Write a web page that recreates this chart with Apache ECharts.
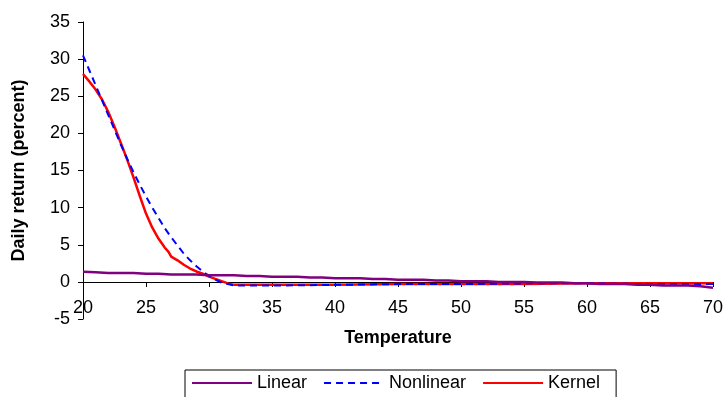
<!DOCTYPE html>
<html>
<head>
<meta charset="utf-8">
<script src="https://cdn.jsdelivr.net/npm/echarts@6/dist/echarts.min.js"></script>
<style>
  html, body { margin: 0; padding: 0; background: #fff; }
  #chart { width: 727px; height: 397px; }
</style>
</head>
<body>
<div id="chart"></div>
<script>
// Linear fit at whole degrees
const linearTemps = [20, 21, 22, 23, 24, 25, 26, 27, 28, 29, 30, 31, 32, 33, 34, 35, 36, 37, 38, 39,
  40, 41, 42, 43, 44, 45, 46, 47, 48, 49, 50, 51, 52, 53, 54, 55, 56, 57, 58, 59,
  60, 61, 62, 63, 64, 65, 66, 67, 68, 69, 70];
const linearValues = [1.35, 1.3, 1.2, 1.2, 1.2, 1.1, 1.1, 1.0, 1.0, 1.0, 0.9, 0.9, 0.9, 0.8, 0.8, 0.7, 0.7, 0.7, 0.6, 0.6,
  0.5, 0.5, 0.5, 0.4, 0.4, 0.3, 0.3, 0.3, 0.2, 0.2, 0.1, 0.1, 0.1, 0.0, 0.0, 0.0, -0.1, -0.1, -0.1, -0.2,
  -0.2, -0.3, -0.3, -0.3, -0.4, -0.4, -0.5, -0.5, -0.5, -0.6, -0.8];

// Nonlinear fit
const nonlinearTemps = [20, 20.5, 21, 21.5, 22, 22.5, 23, 23.5, 24, 24.5, 25, 25.5, 26, 26.5, 27, 27.5,
  28, 28.5, 29, 29.5, 30, 30.5, 31, 31.5, 32, 33, 35, 40, 45, 50, 55, 60, 65, 70];
const nonlinearValues = [30.5, 28.5, 26.5, 24.5, 22.5, 20.5, 18.5, 16.6, 14.8, 13.1, 11.5, 10.0, 8.6, 7.2, 6.0, 4.9,
  3.8, 2.9, 2.1, 1.4, 0.8, 0.3, -0.1, -0.3, -0.5, -0.5, -0.5, -0.4, -0.3, -0.3, -0.2, -0.2, -0.3, -0.3];

// Kernel estimate
const kernelTemps = [20, 20.5, 21, 21.5, 22, 22.5, 23, 23.5, 24, 24.5, 25, 25.5, 26, 26.5, 26.8, 27, 27.5,
  28, 28.5, 29, 29.5, 30, 30.5, 31, 31.5, 32, 33, 35, 40, 45, 50, 55, 60, 65, 70];
const kernelValues = [28.0, 27.0, 25.9, 24.6, 22.9, 20.9, 18.7, 16.5, 14.1, 11.6, 9.2, 7.3, 5.8, 4.6, 4.0, 3.4, 2.9,
  2.3, 1.8, 1.4, 1.1, 0.7, 0.4, 0.1, -0.2, -0.4, -0.4, -0.4, -0.4, -0.3, -0.3, -0.3, -0.2, -0.2, -0.2];

const zip = (xs, ys) => xs.map((x, i) => [x, ys[i]]);

const chart = echarts.init(document.getElementById('chart'));
const font = 'Liberation Sans, Arial, sans-serif';

chart.setOption({
  animation: false,
  textStyle: { fontFamily: font },
  grid: { left: 83, right: 14, top: 22, bottom: 78 },
  legend: {
    left: 185,
    top: 370,
    padding: [4, 16, 10, 6],
    borderColor: '#000',
    borderWidth: 1,
    itemWidth: 60,
    itemHeight: 12,
    itemGap: 16,
    itemStyle: { opacity: 0, borderWidth: 0 },
    textStyle: { fontSize: 18, color: '#000', fontFamily: font },
    data: ['Linear', 'Nonlinear', 'Kernel']
  },
  xAxis: {
    type: 'value',
    min: 20,
    max: 70,
    interval: 5,
    offset: -37,
    name: 'Temperature',
    nameLocation: 'middle',
    nameGap: 47,
    nameTextStyle: { fontSize: 18, fontWeight: 'bold', color: '#000', fontFamily: font },
    axisLine: { onZero: false, lineStyle: { color: '#000', width: 1 } },
    axisTick: { show: true, length: 5, lineStyle: { color: '#000' } },
    axisLabel: { fontSize: 18, color: '#000', margin: 17, fontFamily: font },
    splitLine: { show: false }
  },
  yAxis: {
    type: 'value',
    min: -5,
    max: 35,
    interval: 5,
    name: 'Daily return (percent)',
    nameLocation: 'middle',
    nameGap: 55,
    nameTextStyle: { fontSize: 18, fontWeight: 'bold', color: '#000', fontFamily: font },
    axisLine: { show: true, onZero: false, lineStyle: { color: '#000', width: 1 } },
    axisTick: { show: true, length: 5, lineStyle: { color: '#000' } },
    axisLabel: { fontSize: 18, color: '#000', margin: 13, fontFamily: font },
    splitLine: { show: false }
  },
  series: [
    {
      name: 'Linear',
      type: 'line',
      symbol: 'none',
      data: zip(linearTemps, linearValues),
      lineStyle: { color: '#800080', width: 2.5 },
      itemStyle: { color: '#800080' },
      z: 3
    },
    {
      name: 'Nonlinear',
      type: 'line',
      symbol: 'none',
      data: zip(nonlinearTemps, nonlinearValues),
      lineStyle: { color: '#0000FF', width: 2, type: [7, 5] },
      itemStyle: { color: '#0000FF' },
      z: 2
    },
    {
      name: 'Kernel',
      type: 'line',
      symbol: 'none',
      data: zip(kernelTemps, kernelValues),
      lineStyle: { color: '#FF0000', width: 2.5 },
      itemStyle: { color: '#FF0000' },
      z: 1
    }
  ]
});
</script>
</body>
</html>
